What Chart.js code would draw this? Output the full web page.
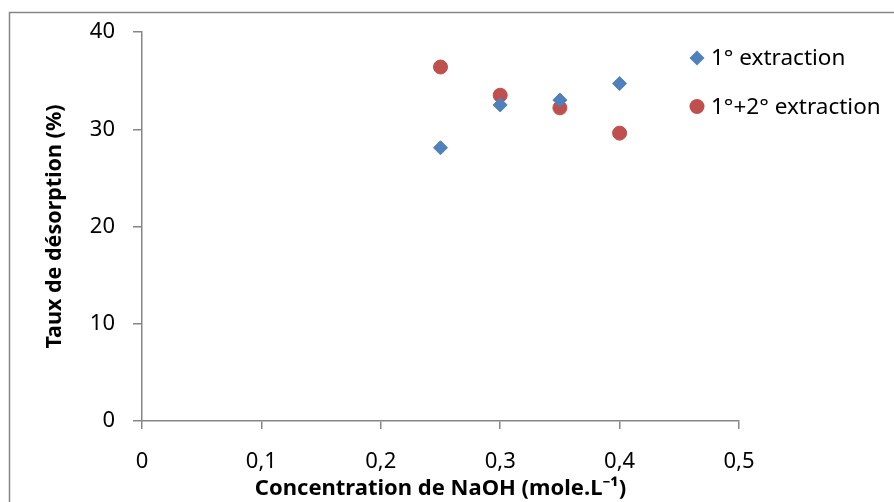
<!DOCTYPE html>
<html>
<head>
<meta charset="utf-8">
<title>Taux de désorption</title>
<script src="https://cdn.jsdelivr.net/npm/chart.js"></script>
<style>
  html, body { margin: 0; padding: 0; background: #fff; }
</style>
</head>
<body>
<canvas id="chart" width="894" height="502"></canvas>
<script>
const concentrations = [0.25, 0.3, 0.35, 0.4];
const firstExtraction = [28.1, 32.5, 33.0, 34.7];
const combinedExtraction = [36.4, 33.5, 32.2, 29.6];
const seriesLabels = ['1° extraction', '1°+2° extraction'];
const seriesColors = ['#4F81BD', '#C0504D'];
const xTicks = [0, 0.1, 0.2, 0.3, 0.4, 0.5];
const yTicks = [0, 10, 20, 30, 40];

const FONT = '"Noto Sans", "DejaVu Sans", sans-serif';
const AXIS = '#868686';

// white background + the grey frame Excel leaves round the chart
const framePlugin = {
  id: 'frame',
  beforeDraw(chart) {
    const ctx = chart.ctx;
    ctx.save();
    ctx.fillStyle = '#fff';
    ctx.fillRect(0, 0, chart.width, chart.height);
    ctx.strokeStyle = AXIS;
    ctx.lineWidth = 1.5;
    ctx.strokeRect(9.5, 12.5, chart.width + 20, chart.height + 20);
    ctx.restore();
  }
};

// legend on the right, drawn by hand to sit where Excel put it
const legendPlugin = {
  id: 'sideLegend',
  afterDraw(chart) {
    const ctx = chart.ctx;
    ctx.save();
    ctx.font = '22.5px ' + FONT;
    ctx.textBaseline = 'middle';
    chart.data.datasets.forEach((ds, i) => {
      const x = 697, y = 58 + i * 48.5, r = 7.5;
      ctx.fillStyle = ds.backgroundColor;
      ctx.beginPath();
      if (ds.pointStyle === 'rectRot') {
        ctx.moveTo(x - r, y); ctx.lineTo(x, y - r);
        ctx.lineTo(x + r, y); ctx.lineTo(x, y + r);
        ctx.closePath();
      } else {
        ctx.arc(x, y, r, 0, Math.PI * 2);
      }
      ctx.fill();
      ctx.fillStyle = '#000';
      ctx.fillText(ds.label, 711, y + 1);
    });
    ctx.restore();
  }
};

const toPoints = ys => concentrations.map((x, i) => ({ x, y: ys[i] }));

new Chart(document.getElementById('chart'), {
  type: 'scatter',
  data: {
    datasets: [
      {
        label: seriesLabels[0],
        data: toPoints(firstExtraction),
        pointStyle: 'rectRot',
        pointRadius: 7,
        borderWidth: 1,
        backgroundColor: seriesColors[0],
        borderColor: seriesColors[0]
      },
      {
        label: seriesLabels[1],
        data: toPoints(combinedExtraction),
        pointStyle: 'circle',
        pointRadius: 7,
        borderWidth: 1,
        backgroundColor: seriesColors[1],
        borderColor: seriesColors[1]
      }
    ]
  },
  options: {
    responsive: false,
    animation: false,
    layout: { padding: { left: 0, top: 32, right: 155, bottom: 0 } },
    plugins: {
      legend: { display: false },
      tooltip: { enabled: false }
    },
    scales: {
      x: {
        type: 'linear',
        min: 0,
        max: 0.5,
        afterBuildTicks: s => { s.ticks = xTicks.map(v => ({ value: v })); },
        afterFit: s => { s.height = 81; },
        grid: { drawOnChartArea: false, drawTicks: true, tickLength: 8, color: AXIS, lineWidth: 1.5 },
        border: { color: AXIS, width: 1.5 },
        ticks: {
          padding: 20,
          color: '#000',
          font: { family: FONT, size: 22 },
          callback: v => v === 0 ? '0' : v.toFixed(1).replace('.', ',')
        },
        title: {
          display: true,
          text: 'Concentration de NaOH (mole.L⁻¹)',
          color: '#000',
          font: { family: FONT, size: 22, weight: 'bold' },
          padding: { top: 0, bottom: 0 }
        }
      },
      y: {
        min: 0,
        max: 40,
        afterBuildTicks: s => { s.ticks = yTicks.map(v => ({ value: v })); },
        afterFit: s => { s.width = 142; },
        grid: { drawOnChartArea: false, drawTicks: true, tickLength: 9, color: AXIS, lineWidth: 1.5 },
        border: { color: AXIS, width: 1.5 },
        ticks: {
          padding: 18,
          color: '#000',
          font: { family: FONT, size: 22 }
        },
        title: {
          display: true,
          text: 'Taux de désorption (%)',
          color: '#000',
          font: { family: FONT, size: 21.5, weight: 'bold' },
          padding: { top: 42, bottom: 0 }
        }
      }
    }
  },
  plugins: [framePlugin, legendPlugin]
});
</script>
</body>
</html>
